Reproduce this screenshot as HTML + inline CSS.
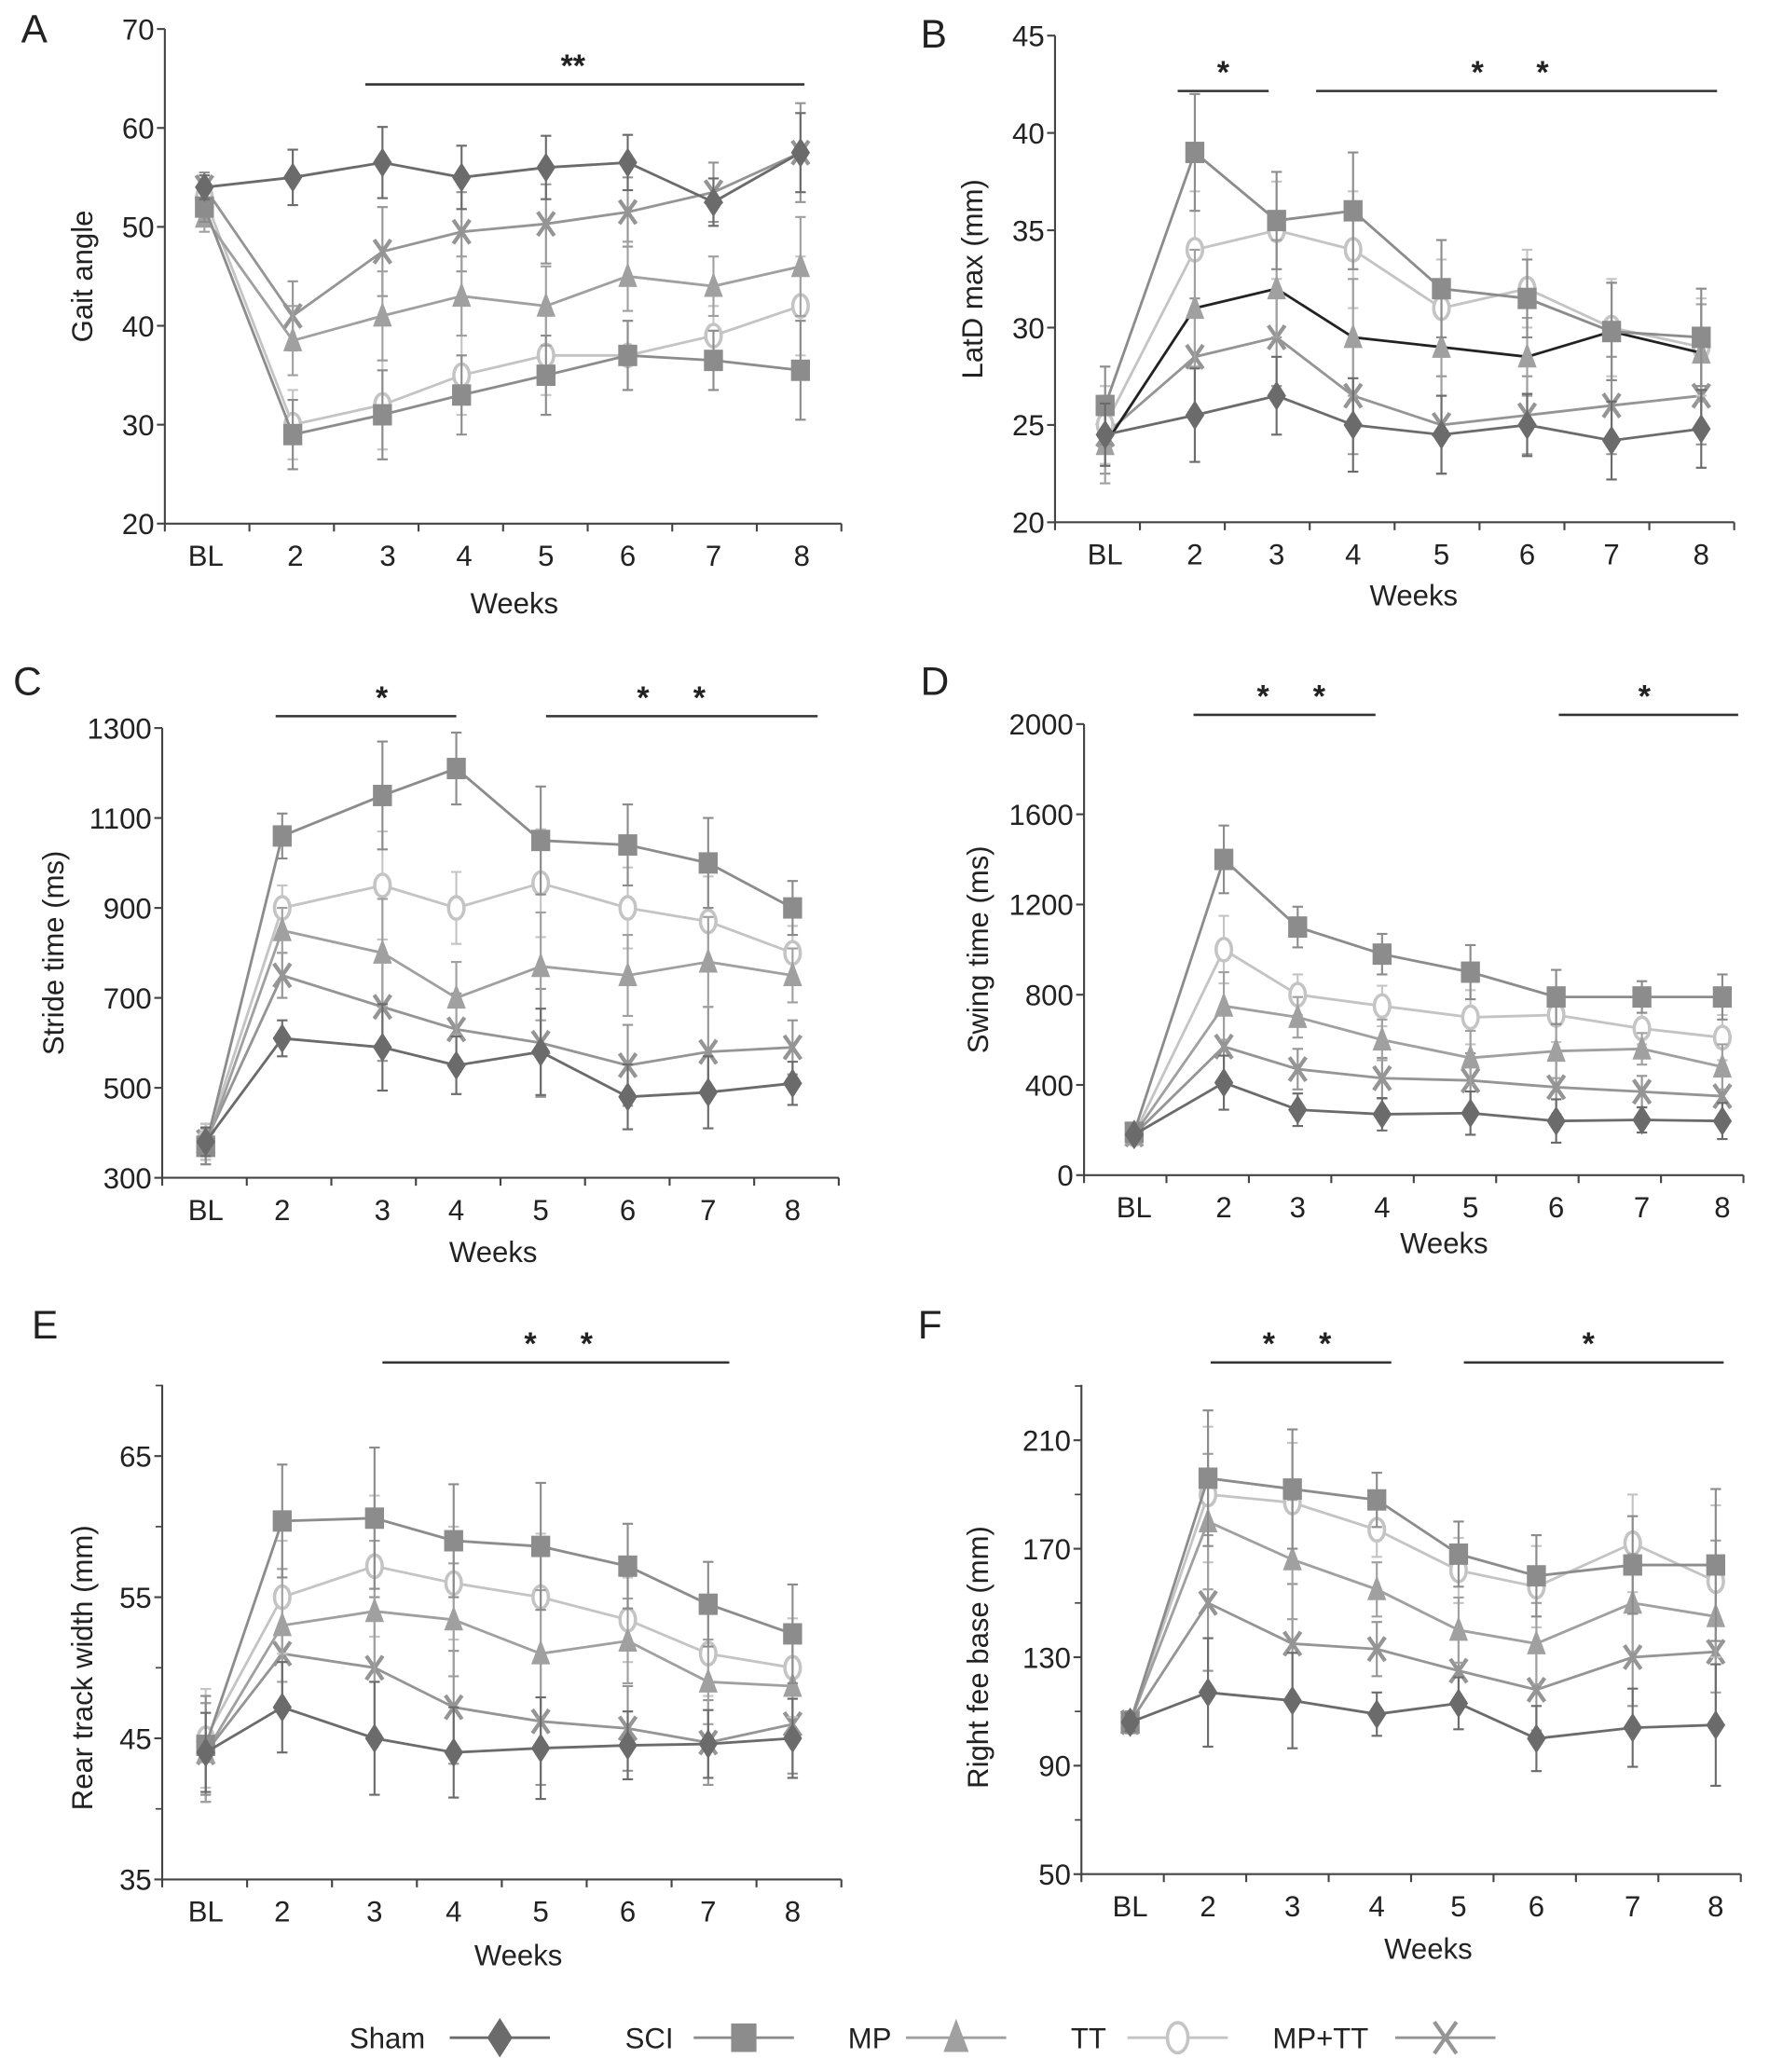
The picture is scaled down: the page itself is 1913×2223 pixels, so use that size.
<!DOCTYPE html>
<html><head><meta charset="utf-8"><style>
html,body{margin:0;padding:0;background:#fff}
svg{display:block}
text{font-family:"Liberation Sans",Arial,sans-serif;fill:#222;white-space:pre}
</style></head><body>
<svg id="fig" width="1913" height="2223" viewBox="0 0 1352 1571" preserveAspectRatio="none" xmlns="http://www.w3.org/2000/svg" xml:space="preserve"></svg>
<script>
const weeks = ["BL","2","3","4","5","6","7","8"];
const seriesNames = ["Sham","SCI","MP","TT","MP+TT"];
// Panel A: Gait angle
const aSham=[54,55,56.5,55,56,56.5,52.5,57.5], aSCI=[52,29,31,33,35,37,36.5,35.5], aMP=[51,38.5,41,43,42,45,44,46], aTT=[53,30,32,35,37,37,39,42], aMPTT=[54,41,47.5,49.5,50.3,51.5,53.5,57.5];
const aErr=[1.5,3.5,4.5,4,4,3.5,3,5];
// Panel B: LatD max
const bSham=[24.5,25.5,26.5,25,24.5,25,24.2,24.8], bSCI=[26,39,35.5,36,32,31.5,29.8,29.5], bMP=[24,31,32,29.5,29,28.5,29.8,28.7], bTT=[25,34,35,34,31,32,30,29], bMPTT=[24.5,28.5,29.5,26.5,25,25.5,26,26.5];
const bErr=[2,3,2.5,3,2.5,2,2.5,2.5];
// Panel C: Stride time
const cSham=[380,610,590,550,580,480,490,510], cSCI=[370,1060,1150,1210,1050,1040,1000,900], cMP=[370,850,800,700,770,750,780,750], cTT=[380,900,950,900,955,900,870,800], cMPTT=[380,750,680,630,600,550,580,590];
const cErr=[40,50,120,80,120,90,100,60];
// Panel D: Swing time
const dSham=[180,410,290,270,275,240,245,240], dSCI=[190,1400,1100,980,900,790,790,790], dMP=[180,750,700,600,520,550,560,480], dTT=[180,1000,800,750,700,710,650,610], dMPTT=[180,570,470,430,420,390,370,350];
const dErr=[30,150,90,90,120,120,70,100];
// Panel E: Rear track width
const eSham=[44,47.2,45,44,44.3,44.5,44.6,45], eSCI=[44.5,60.4,60.6,59,58.6,57.2,54.5,52.4], eMP=[44,53,54,53.4,51,51.9,49,48.7], eTT=[45,55,57.2,56,55,53.4,51,50], eMPTT=[44,51,50,47.2,46.2,45.7,44.7,46];
const eErr=[3.5,4,5,4,4.5,3,3,3.5];
// Panel F: Right fee base
const fSham=[106,117,114,109,113,100,104,105], fSCI=[106,196,192,188,168,160,164,164], fMP=[106,180,166,155,140,135,150,145], fTT=[106,190,187,177,162,156,172,158], fMPTT=[106,150,135,133,125,118,130,132];
const fErr=[4,25,22,10,12,15,18,28];

const aTicks=[20,30,40,50,60,70], bTicks=[20,25,30,35,40,45], cTicks=[300,500,700,900,1100,1300], dTicks=[0,400,800,1200,1600,2000], eTicks=[35,45,55,65], fTicks=[50,90,130,170,210];

const NS="http://www.w3.org/2000/svg";
const svg=document.getElementById('fig');
function mk(tag,attrs,parent,txt){const e=document.createElementNS(NS,tag);for(const k in attrs)e.setAttribute(k,attrs[k]);if(txt!==undefined)e.textContent=txt;(parent||svg).appendChild(e);return e;}

const colors={"Sham":"#6b6b6b","SCI":"#8c8c8c","MP":"#a0a0a0","TT":"#c4c4c4","MP+TT":"#959595"};

function marker(g,name,x,y,s){
  const c=colors[name];
  let e;
  if(name==="Sham"){e=mk('polygon',{points:`${x},${y-s*1.25} ${x+s*0.8},${y} ${x},${y+s*1.25} ${x-s*0.8},${y}`,fill:c},g);}
  else if(name==="SCI"){e=mk('rect',{x:x-s*0.8,y:y-s*0.9,width:s*1.6,height:s*1.8,fill:c},g);}
  else if(name==="MP"){e=mk('polygon',{points:`${x},${y-s*1.2} ${x+s*0.8},${y+s*0.9} ${x-s*0.8},${y+s*0.9}`,fill:c},g);}
  else if(name==="TT"){e=mk('ellipse',{cx:x,cy:y,rx:s*0.65,ry:s*0.95,fill:"#fff",stroke:c,'stroke-width':2.5},g);}
  else {e=mk('path',{d:`M${x-s*0.7},${y-s} L${x+s*0.7},${y+s} M${x+s*0.7},${y-s} L${x-s*0.7},${y+s}`,stroke:c,'stroke-width':3,fill:'none'},g);}
  
  
}

function panel(p){
  const g=mk('g',{});
  
  
  const [y0,y1]=[p.ticks[0],p.ticks[p.ticks.length-1]];
  const yS=v=>p.yBot-(v-y0)/(y1-y0)*(p.yBot-p.yTop);
  const xS=i=>p.xs[i];
  const L=mk('text',{x:p.lx,y:p.ly,'font-size':30},g,p.letter);
  
  const ax=mk('path',{d:`M${p.x0},${p.axTop} L${p.x0},${p.yBot} L${p.x1},${p.yBot}`,stroke:'#444','stroke-width':1.5,fill:'none'},g);
  
  for(let k=0;k<=8;k++){const tx=p.x0+(p.x1-p.x0)*k/8;mk('line',{x1:tx,y1:p.yBot,x2:tx,y2:p.yBot+6,stroke:'#444','stroke-width':1.5},g);}
  p.ticks.forEach((t,i)=>{const ty=yS(t);mk('line',{x1:p.x0-6,y1:ty,x2:p.x0,y2:ty,stroke:'#444','stroke-width':1.5},g);
    if(p.minor&&i<p.ticks.length-1){const my=yS((t+p.ticks[i+1])/2);mk('line',{x1:p.x0-5,y1:my,x2:p.x0,y2:my,stroke:'#444','stroke-width':1.2},g);}
    const tl=mk('text',{x:p.x0-8,y:ty+8,'font-size':22,'text-anchor':'end'},g,String(t));
    });
  if(p.minor){const my=yS(y1+(p.ticks[1]-p.ticks[0])/2);mk('line',{x1:p.x0-5,y1:my,x2:p.x0,y2:my,stroke:'#444','stroke-width':1.2},g);}
  weeks.forEach((w,i)=>{const tl=mk('text',{x:p.lxs[i],y:p.yBot+32,'font-size':22,'text-anchor':'middle'},g,w);
    });
  const xt=mk('text',{x:p.wx,y:p.wy,'font-size':22,'text-anchor':'middle'},g,'Weeks');
  
  const yc=(p.yTop+p.yBot)/2;
  const yt=mk('text',{x:p.ytx,y:yc,'font-size':22,'text-anchor':'middle',transform:`rotate(-90 ${p.ytx} ${yc})`},g,p.ytitle);
  
  p.sig.forEach(s=>{const b=mk('line',{x1:s[0],y1:p.sigY,x2:s[1],y2:p.sigY,stroke:'#333','stroke-width':1.8},g);
    
    const st=mk('text',{x:(s[0]+s[1])/2+(s[3]||0),y:p.sigY-6,'font-size':24,'font-weight':'bold','text-anchor':'middle'},g,s[2]);
    });
  const order=[4,3,2,1,0];
  order.forEach(si=>{
    const name=seriesNames[si],vals=p.data[si],c=colors[name];
    const sg=mk('g',{},g);
    
    
    const err=p.err.map(e=>e*(si===0?0.8:1));
    vals.forEach((v,i)=>{const x=xS(i),ya=yS(v+err[i]),yb=yS(v-err[i]);
      const eb=mk('path',{d:`M${x},${ya} L${x},${yb} M${x-4},${ya} L${x+4},${ya} M${x-4},${yb} L${x+4},${yb}`,stroke:c,'stroke-width':1.5,fill:'none'},sg);
      });
    const ln=mk('polyline',{points:vals.map((v,i)=>`${xS(i)},${yS(v)}`).join(' '),stroke:(p.letter==='B'&&name==='MP')?'#222':c,'stroke-width':2,fill:'none'},sg);
    
    vals.forEach((v,i)=>marker(sg,name,xS(i),yS(v),9));
  });
}

panel({letter:'A',lx:16,ly:32,x0:125,x1:638,yTop:22,yBot:397,axTop:22,ticks:aTicks,
  xs:[155,222,290,350,414,476,541,607],lxs:[156,224,294,352,414,476,541,608],wx:390,wy:465,ytx:70,ytitle:'Gait angle',
  sigY:64,sig:[[277,610,'**',-9]],data:[aSham,aSCI,aMP,aTT,aMPTT],err:aErr});
panel({letter:'B',lx:698,ly:36,x0:800,x1:1315,yTop:27,yBot:396,axTop:27,ticks:bTicks,
  xs:[838,906,968,1026,1093,1158,1222,1290],lxs:[838,906,968,1026,1093,1158,1222,1290],wx:1072,wy:459,ytx:745,ytitle:'LatD max (mm)',
  sigY:69,sig:[[893,962,'*'],[998,1302,'*      *',-5]],data:[bSham,bSCI,bMP,bTT,bMPTT],err:bErr});
panel({letter:'C',lx:10,ly:527,x0:123,x1:636,yTop:552,yBot:893,axTop:552,ticks:cTicks,
  xs:[156,214,290,346,410,476,537,601],lxs:[156,214,290,346,410,476,537,601],wx:374,wy:957,ytx:48,ytitle:'Stride time (ms)',
  sigY:543,sig:[[209,346,'*',12],[414,620,'*     *',-8]],data:[cSham,cSCI,cMP,cTT,cMPTT],err:cErr});
panel({letter:'D',lx:698,ly:527,x0:822,x1:1322,yTop:549,yBot:891,axTop:549,ticks:dTicks,
  xs:[860,928,984,1048,1115,1180,1245,1306],lxs:[860,928,984,1048,1115,1180,1245,1306],wx:1095,wy:950,ytx:749,ytitle:'Swing time (ms)',
  sigY:542,sig:[[905,1043,'*     *',5],[1182,1318,'*',-3]],data:[dSham,dSCI,dMP,dTT,dMPTT],err:dErr});
panel({letter:'E',lx:24,ly:1015,x0:123,x1:638,yTop:1104,yBot:1425,axTop:1050,ticks:eTicks,minor:true,
  xs:[156,214,284,344,410,476,537,601],lxs:[156,214,284,344,410,476,537,601],wx:393,wy:1490,ytx:70,ytitle:'Rear track width (mm)',
  sigY:1033,sig:[[290,553,'*     *',2]],data:[eSham,eSCI,eMP,eTT,eMPTT],err:eErr});
panel({letter:'F',lx:696,ly:1015,x0:820,x1:1320,yTop:1092,yBot:1421,axTop:1050,ticks:fTicks,minor:true,
  xs:[857,916,980,1044,1106,1165,1238,1301],lxs:[857,916,980,1044,1106,1165,1238,1301],wx:1083,wy:1485,ytx:749,ytitle:'Right fee base (mm)',
  sigY:1033,sig:[[918,1055,'*     *',-3],[1110,1307,'*',-4]],data:[fSham,fSCI,fMP,fTT,fMPTT],err:fErr});

const lg=mk('g',{});


const legTextX=[265,474,643,812,965], legMarkX=[379,564,725,893,1096];
seriesNames.forEach((n,i)=>{
  const eg=mk('g',{},lg);
  
  
  mk('text',{x:legTextX[i],y:1553,'font-size':22},eg,n);
  mk('line',{x1:legMarkX[i]-38,y1:1545,x2:legMarkX[i]+38,y2:1545,stroke:colors[n],'stroke-width':2},eg);
  marker(eg,n,legMarkX[i],1545,12);
});
</script>
</body></html>
